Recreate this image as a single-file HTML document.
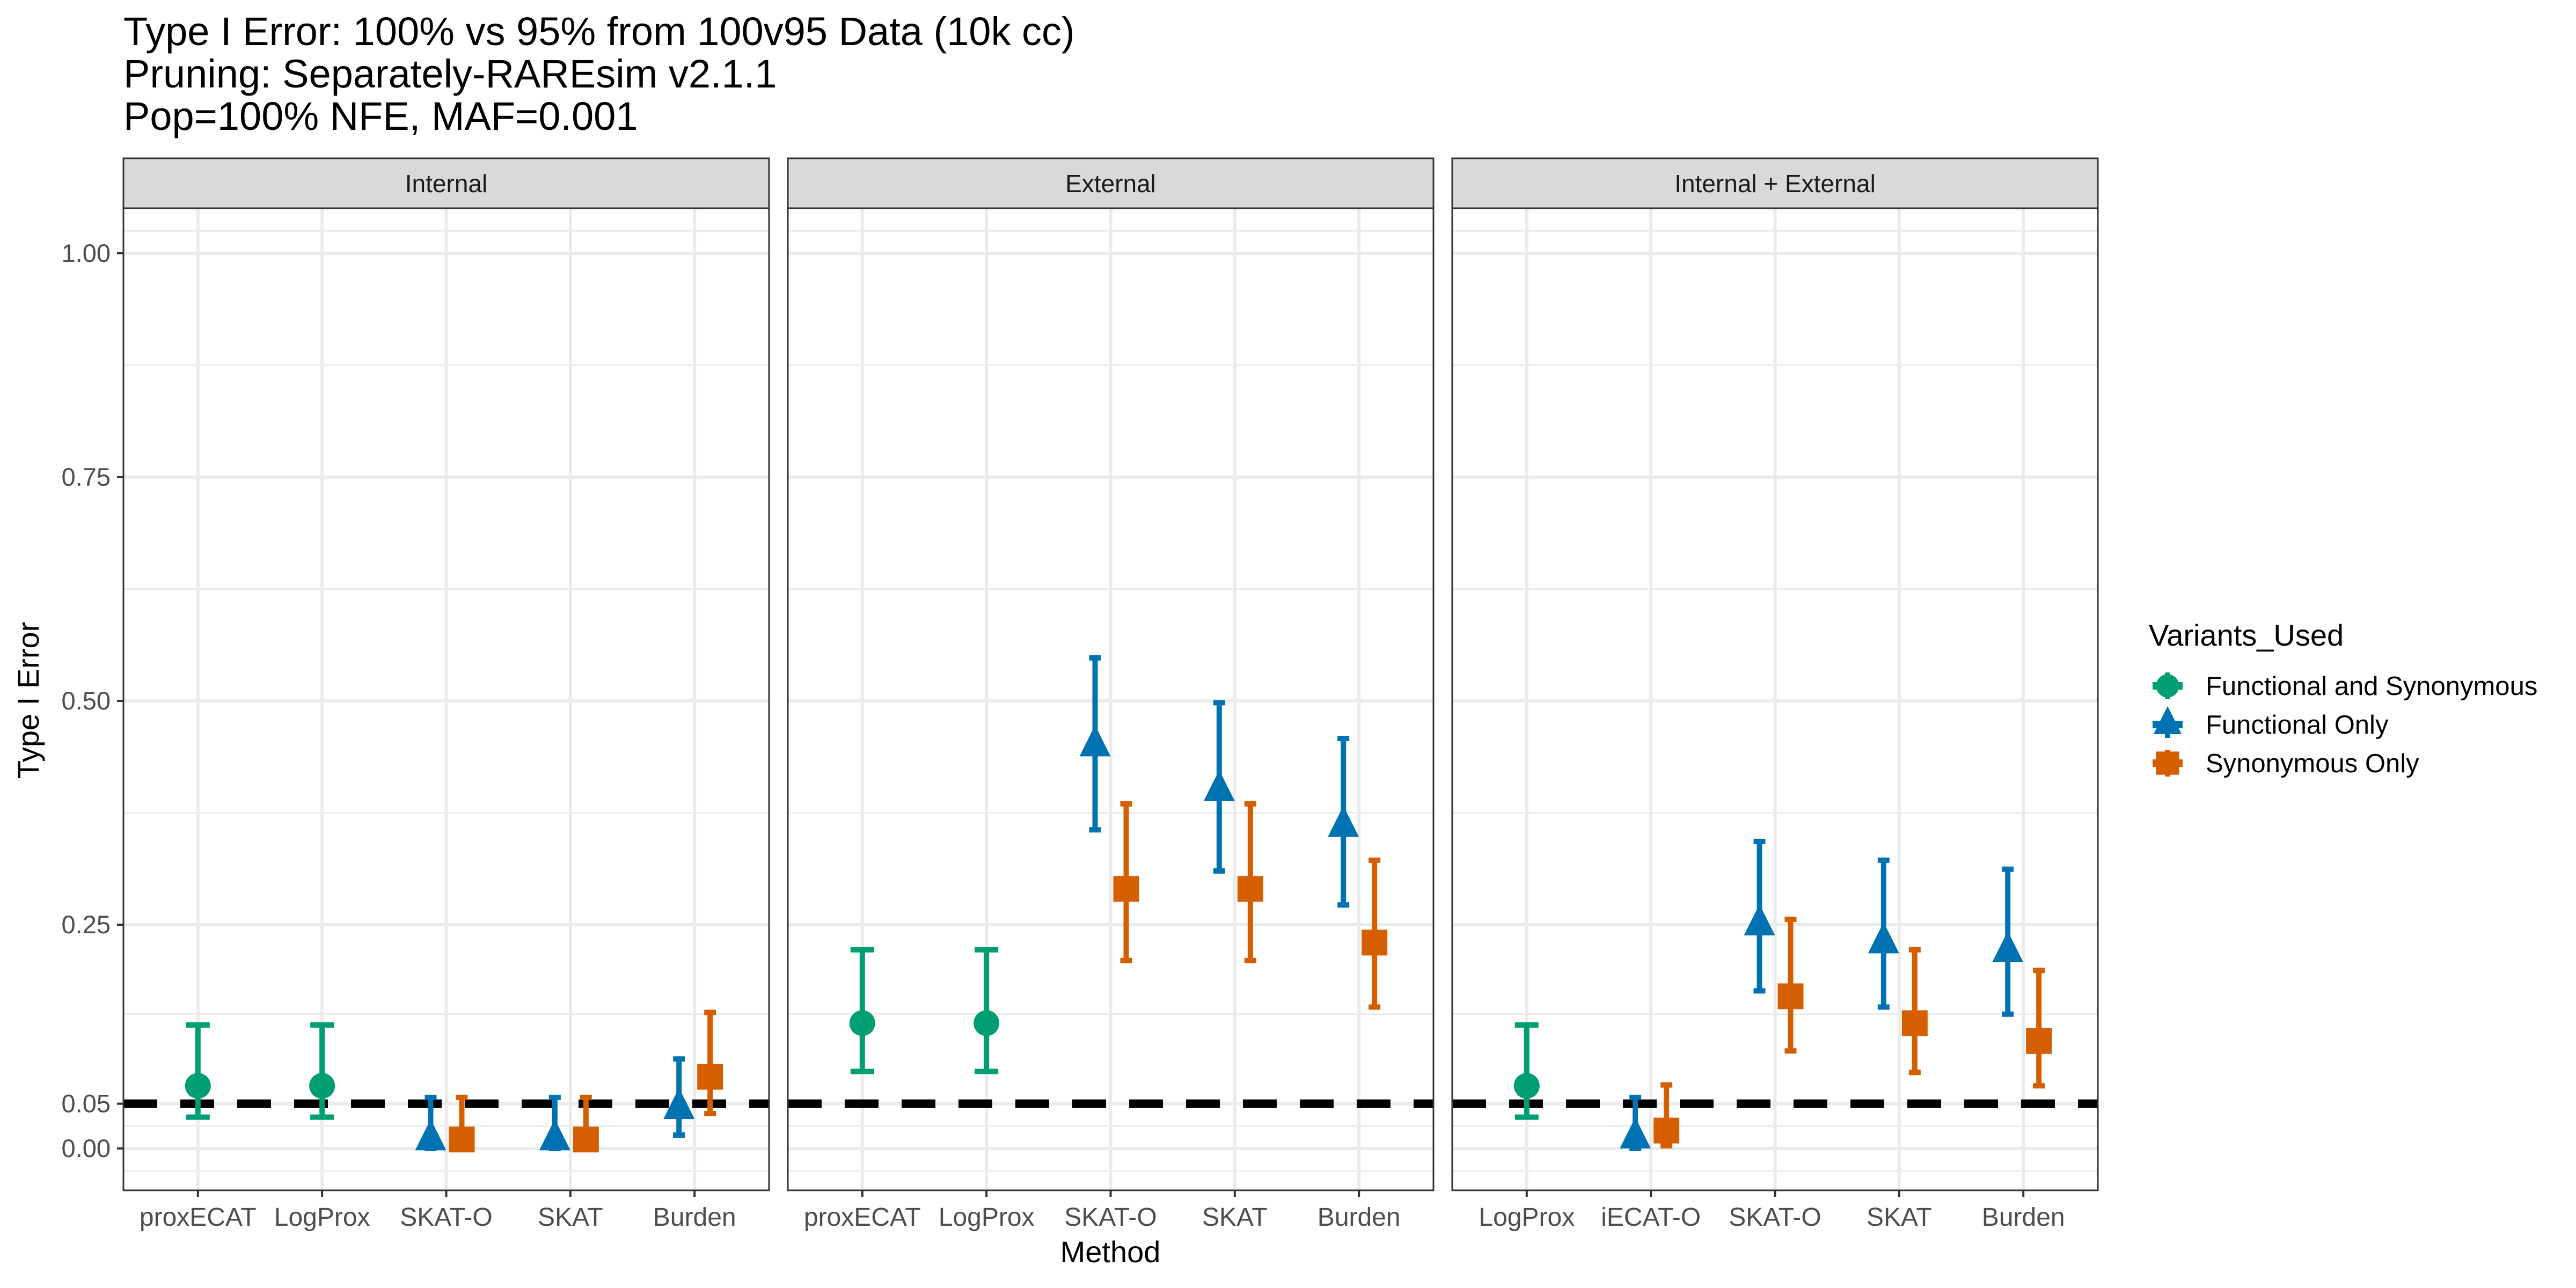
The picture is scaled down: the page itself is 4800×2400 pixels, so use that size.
<!DOCTYPE html>
<html><head><meta charset="utf-8"><style>
html,body{margin:0;padding:0;background:#fff;}
svg{display:block;font-family:"Liberation Sans",Arial,sans-serif;}
</style></head><body>
<svg id="chart" width="4800" height="2400" viewBox="0 0 4800 2400" xmlns="http://www.w3.org/2000/svg">
<text x="230" y="84" font-size="74" fill="#000">Type I Error: 100% vs 95% from 100v95 Data (10k cc)</text>
<text x="230" y="163" font-size="74" fill="#000">Pruning: Separately-RAREsim v2.1.1</text>
<text x="230" y="242" font-size="74" fill="#000">Pop=100% NFE, MAF=0.001</text>
<text transform="translate(72,1305) rotate(-90)" text-anchor="middle" font-size="56" fill="#000">Type I Error</text>
<text x="2069" y="2352" text-anchor="middle" font-size="56" fill="#000">Method</text>
<g id="panels"></g>
<g id="legend">
<text x="4004" y="1203" font-size="56" fill="#000">Variants_Used</text>
</g>
</svg>
<script>
const panelNames = ["Internal", "External", "Internal + External"];
const categories = [
  ["proxECAT", "LogProx", "SKAT-O", "SKAT", "Burden"],
  ["proxECAT", "LogProx", "SKAT-O", "SKAT", "Burden"],
  ["LogProx", "iECAT-O", "SKAT-O", "SKAT", "Burden"]
];
const seriesNames = ["Functional and Synonymous", "Functional Only", "Synonymous Only"];
// per panel: [category index, series index, estimate, lower, upper]
const internalRows = [
  [0,0,0.070,0.035,0.138],[1,0,0.070,0.035,0.138],
  [2,1,0.010,0.000,0.057],[2,2,0.010,0.000,0.057],
  [3,1,0.010,0.000,0.057],[3,2,0.010,0.000,0.057],
  [4,1,0.045,0.015,0.100],[4,2,0.080,0.039,0.152]
];
const externalRows = [
  [0,0,0.140,0.086,0.222],[1,0,0.140,0.086,0.222],
  [2,1,0.450,0.356,0.548],[2,2,0.290,0.210,0.385],
  [3,1,0.400,0.310,0.498],[3,2,0.290,0.210,0.385],
  [4,1,0.360,0.272,0.458],[4,2,0.230,0.158,0.322]
];
const combinedRows = [
  [0,0,0.070,0.035,0.138],
  [1,1,0.012,0.000,0.057],[1,2,0.020,0.003,0.071],
  [2,1,0.250,0.176,0.343],[2,2,0.170,0.109,0.256],
  [3,1,0.230,0.158,0.322],[3,2,0.140,0.085,0.222],
  [4,1,0.220,0.150,0.312],[4,2,0.120,0.070,0.199]
];
const panelRows = [internalRows, externalRows, combinedRows];
const yTicks = [0, 0.05, 0.25, 0.5, 0.75, 1.0];
const yTickLabels = ["0.00", "0.05", "0.25", "0.50", "0.75", "1.00"];
const yMinor = [-0.025, 0.025, 0.15, 0.375, 0.625, 0.875, 1.025];
const refLine = 0.05;

const NS = "http://www.w3.org/2000/svg";
const colors = ["#009E73", "#0072B2", "#D55E00"];
const panelX = [230, 1468, 2706];
const panelW = 1203;
const plotTop = 388, plotBot = 2218, stripTop = 295;
const y = v => 2140 - v * 1668;
const xCat = (p, i) => panelX[p] + (0.6 + i) * (panelW / 5.2);
const dodge = [0, -29, 29];
function el(tag, attrs, parent) {
  const e = document.createElementNS(NS, tag);
  for (const k in attrs) e.setAttribute(k, attrs[k]);
  parent.appendChild(e);
  return e;
}
function marker(s, cx, cy, parent, scale) {
  const k = scale || 1;
  let m;
  if (s === 0) m = el("circle", {cx: cx, cy: cy, r: 24 * k, fill: colors[0]}, parent);
  else if (s === 1) m = el("polygon", {points: `${cx},${cy - 38 * k} ${cx - 29 * k},${cy + 20 * k} ${cx + 29 * k},${cy + 20 * k}`, fill: colors[1]}, parent);
  else m = el("rect", {x: cx - 24 * k, y: cy - 24 * k, width: 48 * k, height: 48 * k, fill: colors[2]}, parent);
  return m;
}
const gp = document.getElementById("panels");
for (let p = 0; p < 3; p++) {
  const g = el("g", {}, gp);
  
  
  const x0 = panelX[p], x1 = x0 + panelW;
  el("rect", {x: x0, y: plotTop, width: panelW, height: plotBot - plotTop, fill: "#fff"}, g);
  yMinor.forEach(v => el("line", {x1: x0, x2: x1, y1: y(v), y2: y(v), stroke: "#ebebeb", "stroke-width": 3}, g));
  yTicks.forEach(v => el("line", {x1: x0, x2: x1, y1: y(v), y2: y(v), stroke: "#ebebeb", "stroke-width": 6}, g));
  for (let i = 0; i < 5; i++) el("line", {x1: xCat(p, i), x2: xCat(p, i), y1: plotTop, y2: plotBot, stroke: "#ebebeb", "stroke-width": 6}, g);
  const dl = el("line", {x1: x0, x2: x1, y1: y(refLine), y2: y(refLine), stroke: "#000", "stroke-width": 16, "stroke-dasharray": "63 43"}, g);
  
  
  panelRows[p].forEach(r => {
    const [ci, s, est, lo, hi] = r;
    const cx = xCat(p, ci) + dodge[s];
    const hw = s === 0 ? 22 : 11;
    const gg = el("g", {}, g);
    
    
    el("line", {x1: cx, x2: cx, y1: y(lo), y2: y(hi), stroke: colors[s], "stroke-width": 10}, gg);
    el("line", {x1: cx - hw, x2: cx + hw, y1: y(lo), y2: y(lo), stroke: colors[s], "stroke-width": 10}, gg);
    el("line", {x1: cx - hw, x2: cx + hw, y1: y(hi), y2: y(hi), stroke: colors[s], "stroke-width": 10}, gg);
    marker(s, cx, y(est), gg);
  });
  el("rect", {x: x0, y: plotTop, width: panelW, height: plotBot - plotTop, fill: "none", stroke: "#333", "stroke-width": 3}, g);
  const st = el("rect", {x: x0, y: stripTop, width: panelW, height: plotTop - stripTop, fill: "#d9d9d9", stroke: "#333", "stroke-width": 3}, g);
  
  
  const stt = el("text", {x: x0 + panelW / 2, y: 358, "text-anchor": "middle", "font-size": 46, fill: "#1a1a1a"}, g);
  stt.textContent = panelNames[p];
  
  
  for (let i = 0; i < 5; i++) {
    const cx = xCat(p, i);
    el("line", {x1: cx, x2: cx, y1: plotBot, y2: plotBot + 12, stroke: "#333", "stroke-width": 4}, g);
    const t = el("text", {x: cx, y: plotBot + 66, "text-anchor": "middle", "font-size": 48, fill: "#4d4d4d"}, g);
    t.textContent = categories[p][i];
    
    
  }
}
const ya = el("g", {}, gp);


yTicks.forEach((v, i) => {
  el("line", {x1: 218, x2: 230, y1: y(v), y2: y(v), stroke: "#333", "stroke-width": 4}, ya);
  const t = el("text", {x: 206, y: y(v) + 16, "text-anchor": "end", "font-size": 47, fill: "#4d4d4d"}, ya);
  t.textContent = yTickLabels[i];
  
  
});
const lg = document.getElementById("legend");
const legY = [1278, 1350, 1422];
seriesNames.forEach((n, s) => {
  const g = el("g", {}, lg);
  
  
  el("line", {x1: 4039, x2: 4039, y1: legY[s] - 25, y2: legY[s] + 25, stroke: colors[s], "stroke-width": 10}, g);
  el("rect", {x: 4011, y: legY[s] - 7, width: 56, height: 14, fill: colors[s]}, g);
  marker(s, 4039, legY[s], g, 0.9);
  const t = el("text", {x: 4110, y: legY[s] + 17, "font-size": 49, fill: "#000"}, g);
  t.textContent = n;
});
</script>
</body></html>
